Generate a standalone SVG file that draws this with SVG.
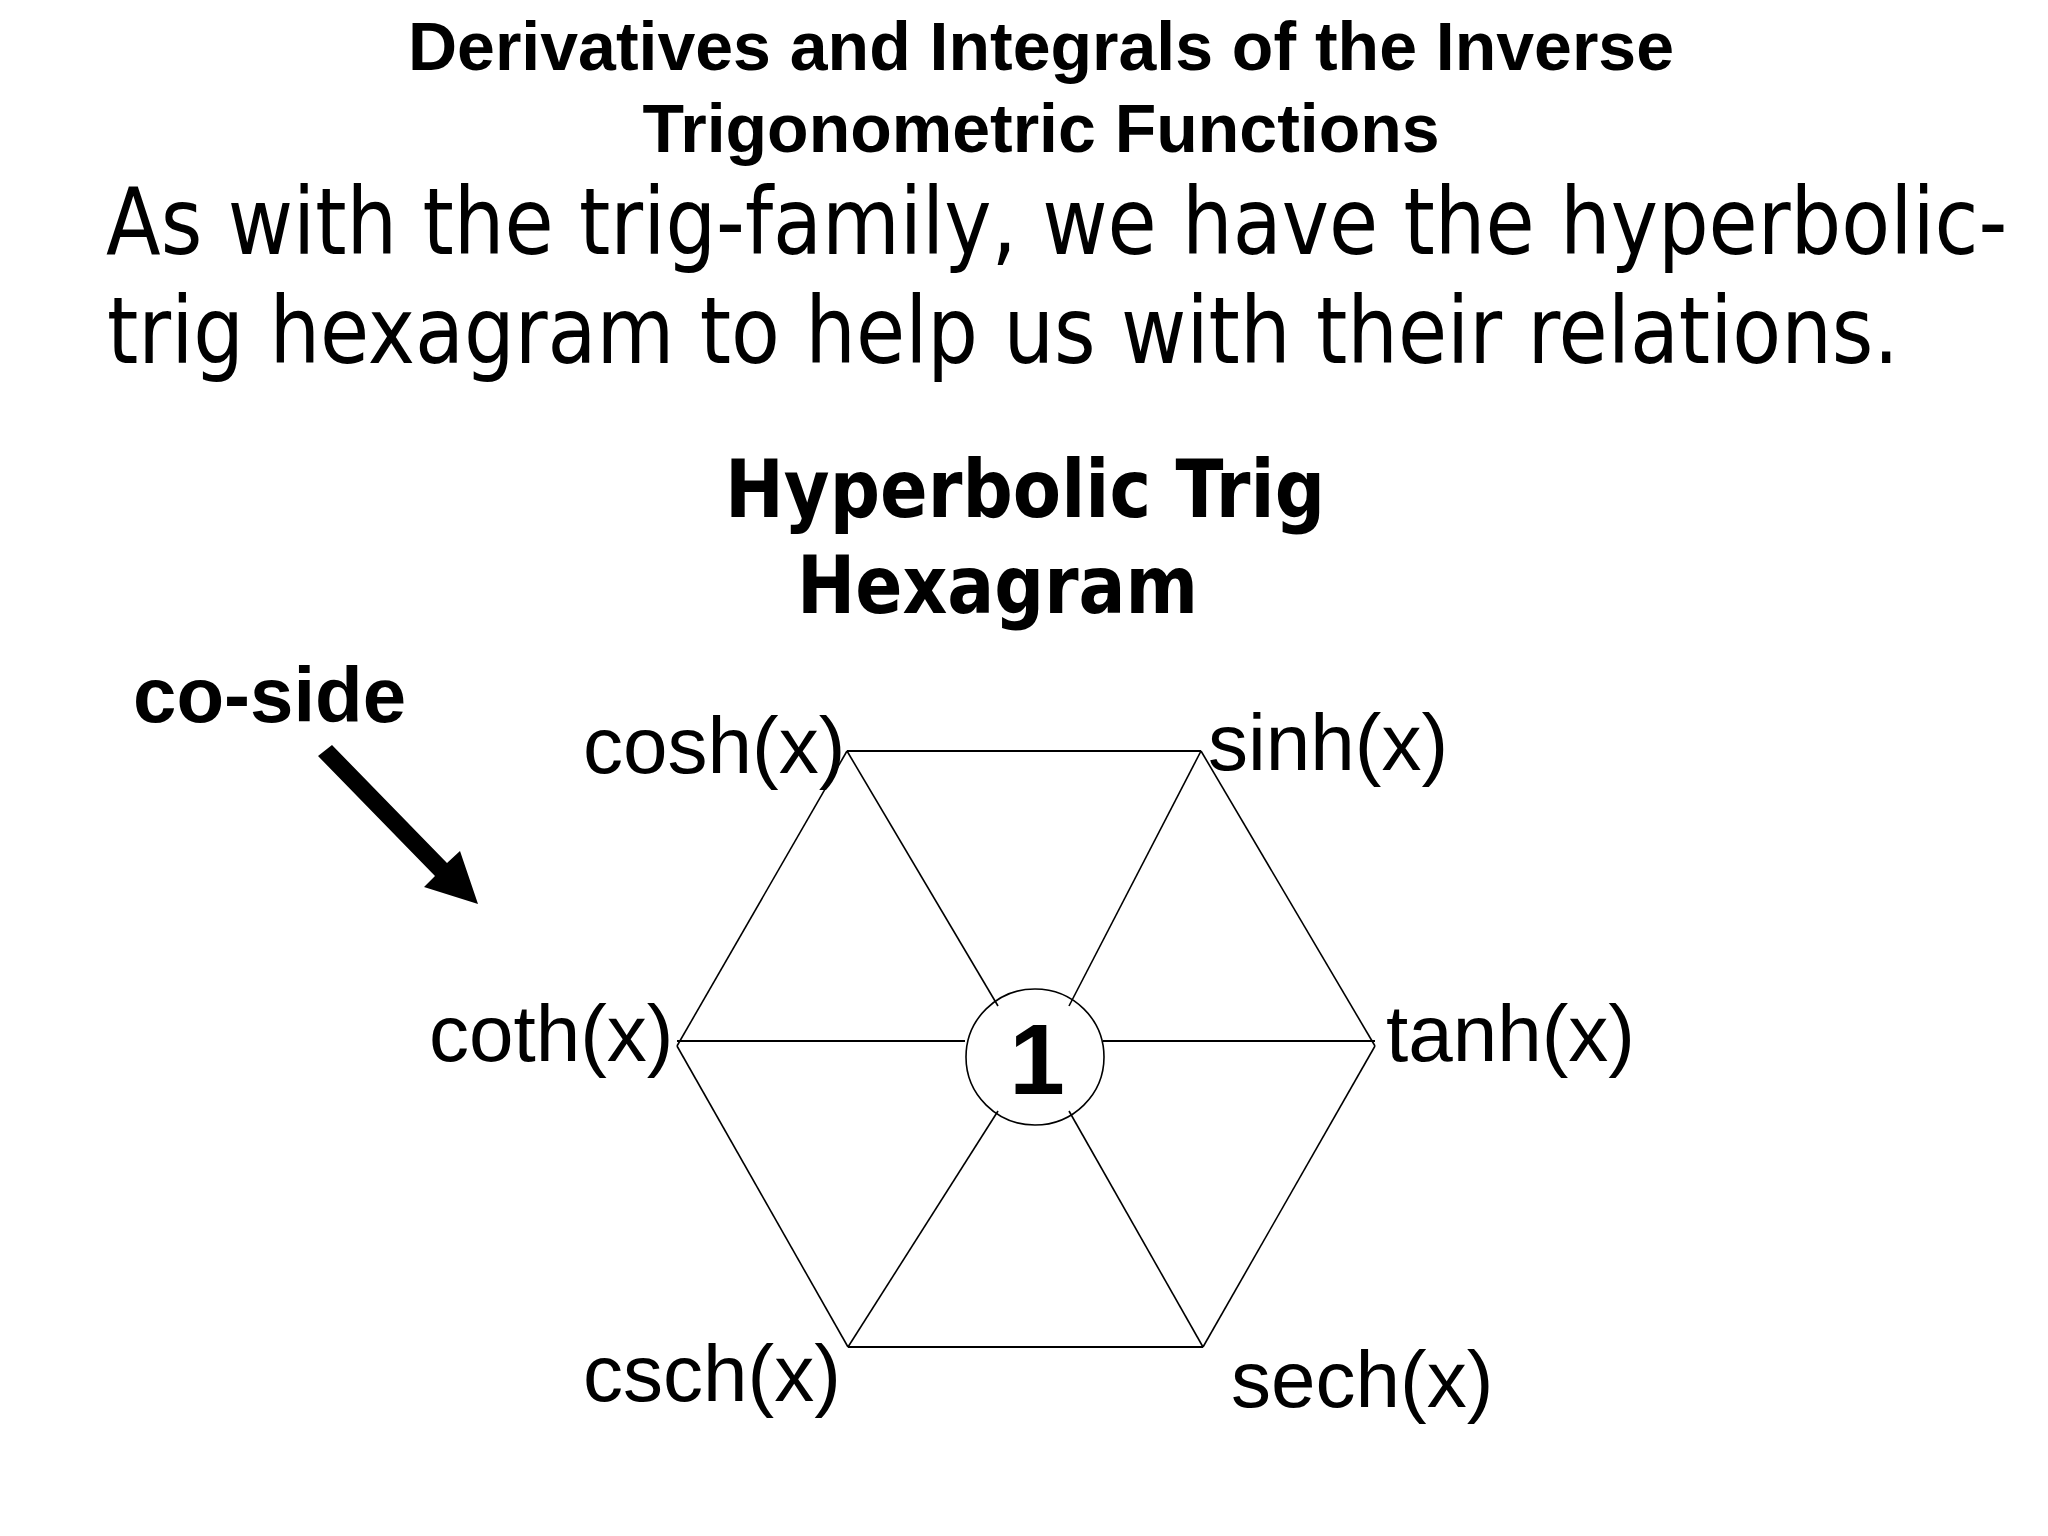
<svg xmlns="http://www.w3.org/2000/svg" width="2048" height="1536" viewBox="0 0 2048 1536">
<style>
.title{font-family:"Liberation Sans",Arial,sans-serif;font-weight:bold;font-size:68px;fill:#000;text-anchor:middle}
.body{font-family:"DejaVu Sans",Verdana,sans-serif;font-size:93px;fill:#000}
.head{font-family:"DejaVu Sans",Verdana,sans-serif;font-weight:bold;font-size:80px;fill:#000}
.lbl{font-family:"Liberation Sans",Arial,sans-serif;font-size:80px;fill:#000}
.one{font-family:"Liberation Sans",Arial,sans-serif;font-weight:bold;font-size:100px;fill:#000;text-anchor:middle}
.cs{font-family:"Liberation Sans",Arial,sans-serif;font-weight:bold;font-size:78px;fill:#000}
.edge{stroke:#000;stroke-width:1.6;fill:none}
.hz{stroke:#000;stroke-width:2.2;fill:none}
</style>
<rect width="2048" height="1536" fill="#fff"/>
<g id="title">
<text class="title" x="1041" y="70">Derivatives and Integrals of the Inverse</text>
<text class="title" x="1041" y="152">Trigonometric Functions</text>
</g>
<g id="intro">
<text class="body" transform="translate(106,254) scale(0.859,1)" x="0" y="0">As with the trig-family, we have the hyperbolic-</text>
<text class="body" transform="translate(107,363) scale(0.859,1)" x="0" y="0">trig hexagram to help us with their relations.</text>
</g>
<g id="heading">
<text class="head" x="725" y="517" textLength="600" lengthAdjust="spacingAndGlyphs">Hyperbolic Trig</text>
<text class="head" x="797" y="613" textLength="401" lengthAdjust="spacingAndGlyphs">Hexagram</text>
</g>
<g id="coside">
<text class="cs" x="133" y="722">co-side</text>
<polygon points="318,756 332,745 447,863 460,851 478,904 424,887 435,876" fill="#000"/>
</g>
<g id="connectors">
<line class="hz" x1="847" y1="751" x2="1201" y2="751"/>
<line class="edge" x1="847" y1="751" x2="677" y2="1046"/>
<line class="edge" x1="677" y1="1046" x2="848" y2="1347"/>
<line class="hz" x1="848" y1="1347" x2="1203" y2="1347"/>
<line class="edge" x1="1203" y1="1347" x2="1375" y2="1046"/>
<line class="edge" x1="1375" y1="1046" x2="1201" y2="751"/>
<line class="edge" x1="847" y1="751" x2="998" y2="1006"/>
<line class="edge" x1="1201" y1="751" x2="1069" y2="1006"/>
<line class="edge" x1="848" y1="1347" x2="998" y2="1111"/>
<line class="edge" x1="1203" y1="1347" x2="1069" y2="1111"/>
<line class="hz" x1="677" y1="1041" x2="965" y2="1041"/>
<line class="hz" x1="1103" y1="1041" x2="1375" y2="1041"/>
</g>
<g id="node-one">
<ellipse cx="1035" cy="1057" rx="69" ry="68" class="edge"/>
<text class="one" x="1037" y="1094">1</text>
</g>
<g id="node-cosh"><text class="lbl" x="583" y="773">cosh(x)</text></g>
<g id="node-sinh"><text class="lbl" x="1208" y="770">sinh(x)</text></g>
<g id="node-coth"><text class="lbl" x="429" y="1061">coth(x)</text></g>
<g id="node-tanh"><text class="lbl" x="1386" y="1061">tanh(x)</text></g>
<g id="node-csch"><text class="lbl" x="583" y="1401">csch(x)</text></g>
<g id="node-sech"><text class="lbl" x="1231" y="1407">sech(x)</text></g>
</svg>
